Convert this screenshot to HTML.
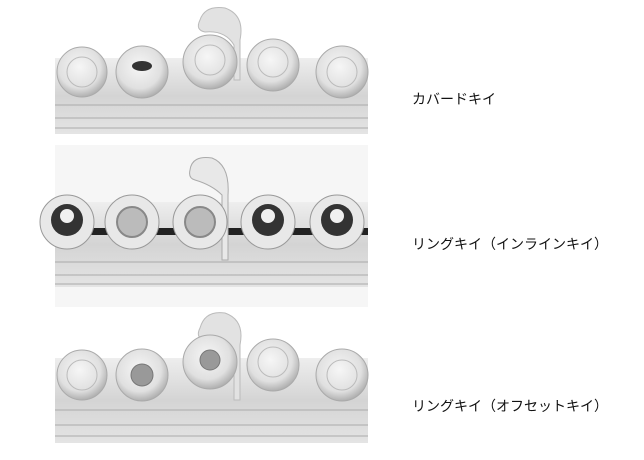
<!DOCTYPE html>
<html><head><meta charset="utf-8"><style>
body{margin:0;background:#fff;width:644px;height:460px;overflow:hidden;position:relative}
.l{position:absolute;left:412px;font:14px "Liberation Sans","Noto Sans CJK JP",sans-serif;color:#111;white-space:nowrap}
</style></head><body>
<svg width="644" height="460" style="position:absolute;left:0;top:0">
<defs>
<linearGradient id="t" x1="0" y1="0" x2="0" y2="1"><stop offset="0" stop-color="#eee"/><stop offset=".5" stop-color="#d4d4d4"/><stop offset="1" stop-color="#e4e4e4"/></linearGradient>
<radialGradient id="k" cx=".45" cy=".4" r=".6"><stop offset="0" stop-color="#f6f6f6"/><stop offset=".7" stop-color="#e0e0e0"/><stop offset="1" stop-color="#b0b0b0"/></radialGradient>
</defs>
<!-- photo 1 -->
<rect x="55" y="58" width="313" height="76" fill="url(#t)"/>
<g stroke="#aaa" stroke-width="1" fill="none"><line x1="55" y1="105" x2="368" y2="105"/><line x1="55" y1="118" x2="368" y2="118"/><line x1="55" y1="128" x2="368" y2="128"/></g>
<path d="M200 20 Q205 5 225 8 Q245 15 240 40 L240 80 L234 80 L234 45 Q225 30 205 32 Q195 30 200 20Z" fill="#e2e2e2" stroke="#bbb"/>
<g fill="url(#k)" stroke="#aaa">
<circle cx="82" cy="72" r="25"/><circle cx="142" cy="72" r="26"/><circle cx="210" cy="62" r="27"/><circle cx="273" cy="65" r="26"/><circle cx="342" cy="72" r="26"/></g>
<ellipse cx="142" cy="66" rx="10" ry="5" fill="#333"/>
<g fill="none" stroke="#bbb"><circle cx="82" cy="72" r="15"/><circle cx="210" cy="60" r="15"/><circle cx="273" cy="62" r="15"/><circle cx="342" cy="72" r="15"/></g>
<!-- photo 2 -->
<rect x="55" y="145" width="313" height="162" fill="#f6f6f6"/>
<rect x="55" y="202" width="313" height="85" fill="url(#t)"/>
<rect x="55" y="228" width="313" height="7" fill="#222"/>
<g stroke="#aaa" fill="none"><line x1="55" y1="262" x2="368" y2="262"/><line x1="55" y1="275" x2="368" y2="275"/><line x1="55" y1="284" x2="368" y2="284"/></g>
<path d="M190 170 Q192 155 212 158 Q230 165 228 195 L228 260 L222 260 L222 195 Q212 185 195 180 Q188 178 190 170Z" fill="#e8e8e8" stroke="#aaa"/>
<g fill="#e8e8e8" stroke="#999"><circle cx="67" cy="222" r="27"/><circle cx="132" cy="222" r="27"/><circle cx="200" cy="222" r="27"/><circle cx="268" cy="222" r="27"/><circle cx="337" cy="222" r="27"/></g>
<g fill="#333"><circle cx="67" cy="220" r="16"/><circle cx="268" cy="220" r="16"/><circle cx="337" cy="220" r="16"/></g>
<g fill="#bbb" stroke="#888" stroke-width="2"><circle cx="132" cy="222" r="15"/><circle cx="200" cy="222" r="15"/></g>
<g fill="#f0f0f0"><circle cx="67" cy="216" r="7"/><circle cx="268" cy="216" r="7"/><circle cx="337" cy="216" r="7"/></g>
<!-- photo 3 -->
<rect x="55" y="358" width="313" height="85" fill="url(#t)"/>
<g stroke="#aaa" fill="none"><line x1="55" y1="410" x2="368" y2="410"/><line x1="55" y1="425" x2="368" y2="425"/><line x1="55" y1="436" x2="368" y2="436"/></g>
<path d="M200 328 Q205 310 225 313 Q245 320 240 345 L240 400 L234 400 L234 350 Q225 338 205 340 Q195 338 200 328Z" fill="#e2e2e2" stroke="#bbb"/>
<g fill="url(#k)" stroke="#aaa">
<circle cx="82" cy="375" r="25"/><circle cx="142" cy="375" r="26"/><circle cx="210" cy="362" r="27"/><circle cx="273" cy="365" r="26"/><circle cx="342" cy="375" r="26"/></g>
<g fill="#999" stroke="#777"><circle cx="142" cy="375" r="11"/><circle cx="210" cy="360" r="10"/></g>
<g fill="none" stroke="#bbb"><circle cx="82" cy="375" r="15"/><circle cx="273" cy="362" r="15"/><circle cx="342" cy="375" r="15"/></g>
</svg>
<div class="l" style="top:89px">カバードキイ</div>
<div class="l" style="top:234px">リングキイ（インラインキイ）</div>
<div class="l" style="top:396px">リングキイ（オフセットキイ）</div>
</body></html>
